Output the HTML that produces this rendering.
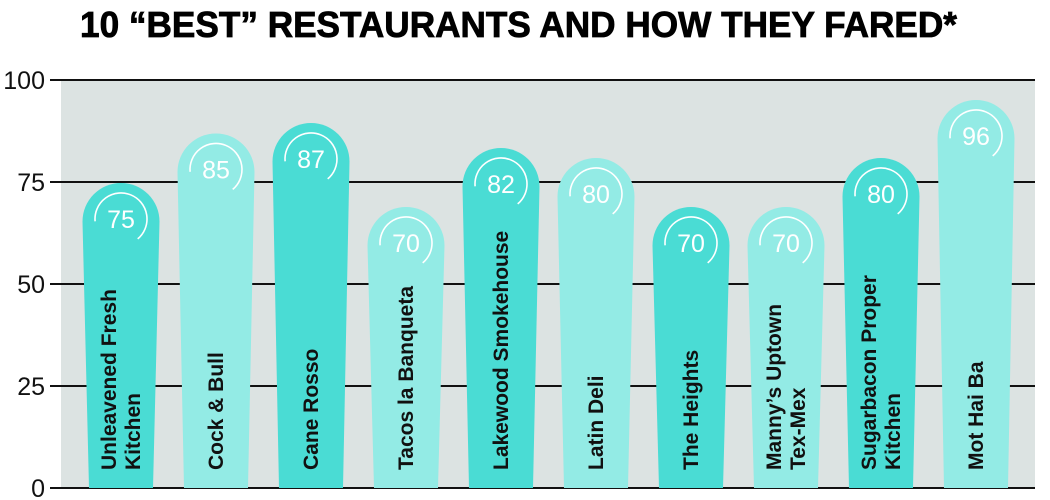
<!DOCTYPE html>
<html><head><meta charset="utf-8"><style>body{margin:0;background:#fff}svg{display:block}</style></head><body>
<svg width="1050" height="500" xmlns="http://www.w3.org/2000/svg" font-family="'Liberation Sans Narrow','Liberation Sans',sans-serif">
<defs>
<path id="arc" d="M-25.9,2.3 A26,26 0 1 1 16.7,19.9" fill="none" stroke="#fff" stroke-width="1.6"/>
</defs>
<text x="80" y="37" font-family="'Liberation Sans',sans-serif" font-weight="bold" font-size="36" textLength="877" lengthAdjust="spacingAndGlyphs" fill="#000" stroke="#000" stroke-width="0.8">10 “BEST” RESTAURANTS AND HOW THEY FARED*</text>
<rect x="61" y="80" width="974" height="408" fill="#dce3e2"/>
<g stroke="#111" stroke-width="2">
<line x1="50" y1="80" x2="1035" y2="80"/><line x1="50" y1="182" x2="1035" y2="182"/><line x1="50" y1="284" x2="1035" y2="284"/><line x1="50" y1="386" x2="1035" y2="386"/><line x1="50" y1="488" x2="1035" y2="488"/>
</g>
<g font-family="'Liberation Sans Narrow','Liberation Sans',sans-serif" font-size="25" text-anchor="end" fill="#111">
<text x="45" y="89">100</text><text x="45" y="191">75</text><text x="45" y="293">50</text><text x="45" y="395">25</text><text x="45" y="497">0</text>
</g>
<g font-size="21" font-weight="bold" fill="#111">

<g transform="translate(121,0)">
<path d="M-32,488 L-38.5,221.5 A38.5,38.5 0 0 1 38.5,221.5 L32,488 Z" fill="#4adcd4"/>
<use href="#arc" transform="translate(0,219)"/>
<text x="0" y="228" font-family="'Liberation Sans',sans-serif" font-weight="normal" font-size="25" fill="#fff" text-anchor="middle">75</text>
<text transform="translate(-5,470) rotate(-90)">Unleavened Fresh</text>
<text transform="translate(19,470) rotate(-90)">Kitchen</text>
</g>

<g transform="translate(216,0)">
<path d="M-32,488 L-38.5,172 A38.5,38.5 0 0 1 38.5,172 L32,488 Z" fill="#93ebe5"/>
<use href="#arc" transform="translate(0,169.5)"/>
<text x="0" y="178.5" font-family="'Liberation Sans',sans-serif" font-weight="normal" font-size="25" fill="#fff" text-anchor="middle">85</text>
<text transform="translate(7,470) rotate(-90)">Cock &amp; Bull</text>
</g>

<g transform="translate(311,0)">
<path d="M-32,488 L-38.5,161.5 A38.5,38.5 0 0 1 38.5,161.5 L32,488 Z" fill="#4adcd4"/>
<use href="#arc" transform="translate(0,159)"/>
<text x="0" y="168" font-family="'Liberation Sans',sans-serif" font-weight="normal" font-size="25" fill="#fff" text-anchor="middle">87</text>
<text transform="translate(7,470) rotate(-90)">Cane Rosso</text>
</g>

<g transform="translate(406,0)">
<path d="M-32,488 L-38.5,245.5 A38.5,38.5 0 0 1 38.5,245.5 L32,488 Z" fill="#93ebe5"/>
<use href="#arc" transform="translate(0,243)"/>
<text x="0" y="252" font-family="'Liberation Sans',sans-serif" font-weight="normal" font-size="25" fill="#fff" text-anchor="middle">70</text>
<text transform="translate(7,470) rotate(-90)">Tacos la Banqueta</text>
</g>

<g transform="translate(501,0)">
<path d="M-32,488 L-38.5,186.5 A38.5,38.5 0 0 1 38.5,186.5 L32,488 Z" fill="#4adcd4"/>
<use href="#arc" transform="translate(0,184)"/>
<text x="0" y="193" font-family="'Liberation Sans',sans-serif" font-weight="normal" font-size="25" fill="#fff" text-anchor="middle">82</text>
<text transform="translate(7,470) rotate(-90)">Lakewood Smokehouse</text>
</g>

<g transform="translate(596,0)">
<path d="M-32,488 L-38.5,196.5 A38.5,38.5 0 0 1 38.5,196.5 L32,488 Z" fill="#93ebe5"/>
<use href="#arc" transform="translate(0,194)"/>
<text x="0" y="203" font-family="'Liberation Sans',sans-serif" font-weight="normal" font-size="25" fill="#fff" text-anchor="middle">80</text>
<text transform="translate(7,470) rotate(-90)">Latin Deli</text>
</g>

<g transform="translate(691,0)">
<path d="M-32,488 L-38.5,245.5 A38.5,38.5 0 0 1 38.5,245.5 L32,488 Z" fill="#4adcd4"/>
<use href="#arc" transform="translate(0,243)"/>
<text x="0" y="252" font-family="'Liberation Sans',sans-serif" font-weight="normal" font-size="25" fill="#fff" text-anchor="middle">70</text>
<text transform="translate(7,470) rotate(-90)">The Heights</text>
</g>

<g transform="translate(786,0)">
<path d="M-32,488 L-38.5,245.5 A38.5,38.5 0 0 1 38.5,245.5 L32,488 Z" fill="#93ebe5"/>
<use href="#arc" transform="translate(0,243)"/>
<text x="0" y="252" font-family="'Liberation Sans',sans-serif" font-weight="normal" font-size="25" fill="#fff" text-anchor="middle">70</text>
<text transform="translate(-5,470) rotate(-90)">Manny’s Uptown</text>
<text transform="translate(19,470) rotate(-90)">Tex-Mex</text>
</g>

<g transform="translate(881,0)">
<path d="M-32,488 L-38.5,196.5 A38.5,38.5 0 0 1 38.5,196.5 L32,488 Z" fill="#4adcd4"/>
<use href="#arc" transform="translate(0,194)"/>
<text x="0" y="203" font-family="'Liberation Sans',sans-serif" font-weight="normal" font-size="25" fill="#fff" text-anchor="middle">80</text>
<text transform="translate(-5,470) rotate(-90)">Sugarbacon Proper</text>
<text transform="translate(19,470) rotate(-90)">Kitchen</text>
</g>

<g transform="translate(976,0)">
<path d="M-32,488 L-38.5,138.5 A38.5,38.5 0 0 1 38.5,138.5 L32,488 Z" fill="#93ebe5"/>
<use href="#arc" transform="translate(0,136)"/>
<text x="0" y="145" font-family="'Liberation Sans',sans-serif" font-weight="normal" font-size="25" fill="#fff" text-anchor="middle">96</text>
<text transform="translate(7,470) rotate(-90)">Mot Hai Ba</text>
</g>

</g>
</svg>
</body></html>
